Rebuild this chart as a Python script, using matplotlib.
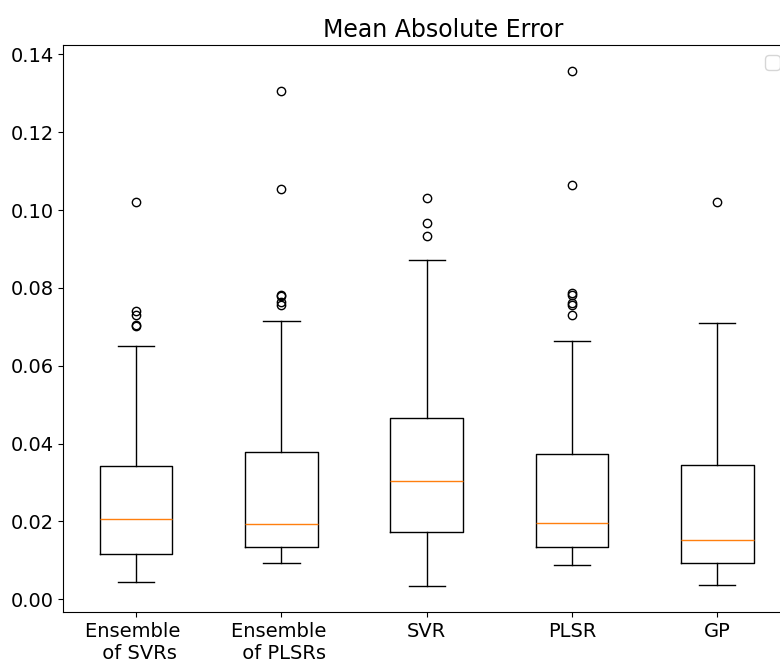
import matplotlib
matplotlib.use("Agg")
import matplotlib.pyplot as plt

plt.rcParams['font.size'] = 14

# models and box statistics
labels = ["Ensemble \n of SVRs", "Ensemble \n of PLSRs", "SVR", "PLSR", "GP"]
q1 = [0.01156, 0.01336, 0.01729, 0.01336, 0.00942]
med = [0.0205, 0.01935, 0.0305, 0.01952, 0.01533]
q3 = [0.0342, 0.0379, 0.0466, 0.0372, 0.0345]
whislo = [0.00437, 0.00925, 0.00334, 0.00873, 0.0036]
whishi = [0.0652, 0.0716, 0.0873, 0.0664, 0.0710]
fliers = [
    [0.1022, 0.0741, 0.0730, 0.0706, 0.0702],
    [0.1306, 0.1055, 0.0782, 0.0779, 0.0765, 0.0755],
    [0.1031, 0.0967, 0.0933],
    [0.1358, 0.1064, 0.0787, 0.0782, 0.0762, 0.0757, 0.0730],
    [0.1021],
]

stats = []
for i in range(len(labels)):
    stats.append({"label": labels[i], "q1": q1[i], "med": med[i], "q3": q3[i],
                  "whislo": whislo[i], "whishi": whishi[i], "fliers": fliers[i]})

fig = plt.figure(figsize=(7.8, 6.6), dpi=100)
ax = fig.add_axes([0.0814, 0.0727, 0.9314, 0.8591])
ax.bxp(stats, showfliers=True)
ax.set_title("Mean Absolute Error", fontsize=17, x=0.523)
ax.legend(handles=[], loc="upper right")

plt.savefig("out.png", dpi=100)
